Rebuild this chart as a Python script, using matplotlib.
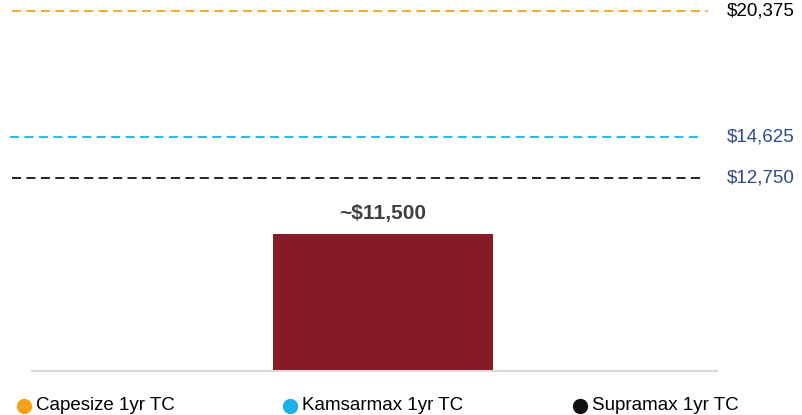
import matplotlib.pyplot as plt
from matplotlib.lines import Line2D

plt.rcParams['font.family'] = ['Liberation Sans', 'DejaVu Sans']

# data
bar_label = "~$11,500"
bar_value = 11500
ref_names = ["Capesize 1yr TC", "Kamsarmax 1yr TC", "Supramax 1yr TC"]
ref_values = [20375, 14625, 12750]
ref_colors = ["#F7A11A", "#1CB0E8", "#111111"]
ref_label_colors = ["#000000", "#2F4A8C", "#2F4A8C"]
ref_xmax = [698 / 707, 693 / 707, 690 / 707]
ref_xmin = [2 / 707, 0.0, 2 / 707]

W, H = 802, 415
fig = plt.figure(figsize=(W / 100, H / 100), dpi=100)
ax = fig.add_axes([10 / W, 1 - 371 / H, 707 / W, 371 / H])
# reference rates sit on their own (secondary) value axis
ax2 = ax.twinx()

ax.bar([0], [bar_value], width=1.0, color="#861A26", zorder=2)
ax.text(0, bar_value + 900, bar_label, ha="center", va="bottom",
        fontsize=15, fontweight="bold", color="#404040")
ax.set_xlim(-1.695, 1.518)
ax.set_ylim(0, 31143)
ax.axhline(0, xmin=22 / 707, xmax=1, color="#D9D9D9", lw=1.5, zorder=4, clip_on=False)
ax.axis("off")

for v, c, lc, x0, x1 in zip(ref_values, ref_colors, ref_label_colors, ref_xmin, ref_xmax):
    ax2.axhline(v, xmin=x0, xmax=x1, color=c, lw=1.3, dashes=(5, 3), zorder=3)
    ax2.text(1.014, v, f"${v:,}", transform=ax2.get_yaxis_transform(),
             ha="left", va="center", fontsize=13.5, color=lc)
ax2.set_ylim(3970, 20887)
ax2.axis("off")

# legend along the bottom
leg_x = [24, 290, 580]
for name, c, x in zip(ref_names, ref_colors, leg_x):
    fig.add_artist(Line2D([x / W], [1 - 406 / H], marker="o", markersize=10,
                          color=c, linestyle="none"))
    fig.text((x + 12) / W, 1 - 405 / H, name, ha="left", va="center",
             fontsize=13.5, color="#000000")

fig.savefig("out.png", dpi=100)
